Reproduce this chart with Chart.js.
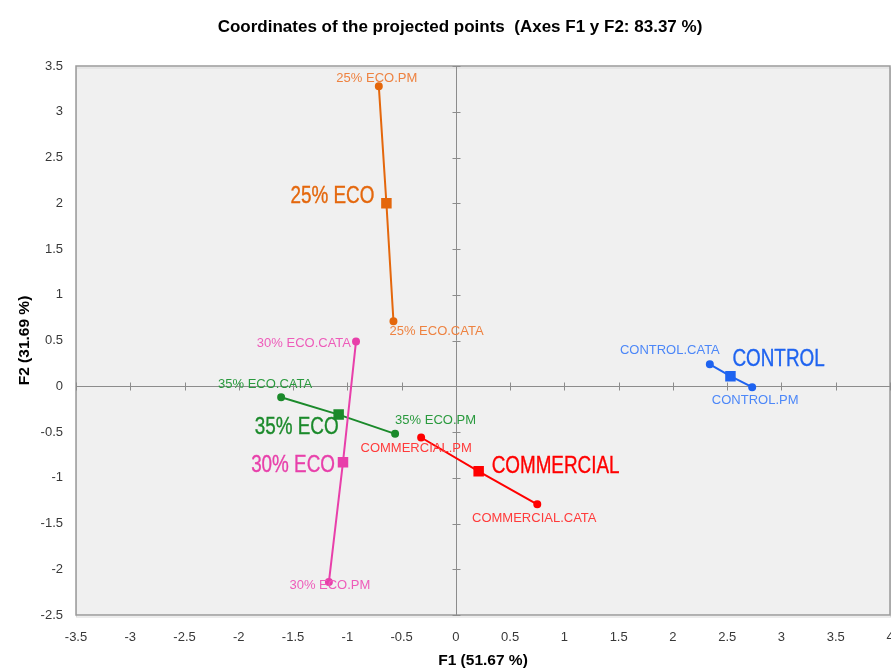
<!DOCTYPE html>
<html>
<head>
<meta charset="utf-8">
<script src="https://cdn.jsdelivr.net/npm/chart.js@4.4.1/dist/chart.umd.min.js"></script>
<style>
    html, body { margin: 0; padding: 0; background: #ffffff; }
    #wrap { width: 891px; height: 670px; position: relative; }
</style>
</head>
<body>
<div id="wrap"><canvas id="pcaChart"></canvas></div>
<script>
// Groups and their projected coordinates (F1, F2)
const groups = ["25% ECO", "30% ECO", "35% ECO", "COMMERCIAL", "CONTROL"];
const cataF1 = [-0.575, -0.92, -1.61, 0.75, 2.34];
const cataF2 = [0.71, 0.49, -0.12, -1.29, 0.24];
const meanF1 = [-0.64, -1.04, -1.08, 0.21, 2.53];
const meanF2 = [2.00, -0.83, -0.31, -0.93, 0.11];
const pmF1 = [-0.71, -1.17, -0.56, -0.32, 2.73];
const pmF2 = [3.28, -2.14, -0.52, -0.56, -0.01];

// Axis ticks
const xTicks = [-3.5, -3, -2.5, -2, -1.5, -1, -0.5, 0, 0.5, 1, 1.5, 2, 2.5, 3, 3.5, 4];
const yTicks = [-2.5, -2, -1.5, -1, -0.5, 0, 0.5, 1, 1.5, 2, 2.5, 3, 3.5];

const lineColors = ["#E4670C", "#E83FAA", "#1B8A2B", "#FF0000", "#1E63F0"];
const textColors = ["#EE8240", "#EE5CBA", "#2A9A3E", "#FF3B3B", "#4C87F8"];

// label placement: [dx, dy, align] for cata, mean, pm
const labelPos = [
    [[-4, 10, "left"], [-12, -7, "right"], [-2, -8, "center"]],
    [[-5, 2, "right"], [-8, 3, "right"], [1, 3, "center"]],
    [[-16, -13, "center"], [0, 13, "right"], [0, -13, "left"]],
    [[-3, 14, "center"], [13, -5, "left"], [-5, 11, "center"]],
    [[-40, -14, "center"], [2, -17, "left"], [3, 13, "center"]]
];

// fixed plot box (px)
const box = { left: 76, right: 890, top: 66, bottom: 615 };

const datasets = groups.map(function (g, i) {
    return {
        label: g,
        data: [
            { x: cataF1[i], y: cataF2[i] },
            { x: meanF1[i], y: meanF2[i] },
            { x: pmF1[i], y: pmF2[i] }
        ],
        showLine: true,
        borderColor: lineColors[i],
        backgroundColor: lineColors[i],
        borderWidth: 2,
        pointStyle: ["circle", "rect", "circle"],
        pointRadius: [3, 6, 3],
        pointHoverRadius: [3, 6, 3],
    };
});

const plotDecor = {
    id: "plotDecor",
    afterLayout(chart) {
        const a = chart.chartArea;
        const sx = chart.scales.x, sy = chart.scales.y;
        a.left = box.left; a.right = box.right; a.top = box.top; a.bottom = box.bottom;
        a.width = box.right - box.left; a.height = box.bottom - box.top;
        sx.left = box.left; sx.right = box.right; sx.width = a.width;
        sx.top = box.bottom; sx.bottom = chart.height; sx.height = chart.height - box.bottom;
        sy.left = 0; sy.right = box.left; sy.width = box.left;
        sy.top = box.top; sy.bottom = box.bottom; sy.height = a.height;
        sx.configure(); sy.configure();
        sx._labelItems = null; sy._labelItems = null;
    },
    beforeDatasetsDraw(chart) {
        const { ctx, chartArea: a, scales } = chart;
        ctx.save();
        ctx.fillStyle = "#F0F0F0";
        ctx.fillRect(a.left, a.top, a.right - a.left, a.bottom - a.top);
        ctx.strokeStyle = "#DADADA";
        ctx.lineWidth = 1;
        ctx.strokeRect(a.left + 0.5, a.top + 2, a.right - a.left, a.bottom - a.top);
        ctx.strokeStyle = "#9A9A9A";
        ctx.lineWidth = 1.5;
        ctx.strokeRect(a.left, a.top, a.right - a.left, a.bottom - a.top);

        const x0 = Math.round(scales.x.getPixelForValue(0)) + 0.5;
        const y0 = Math.round(scales.y.getPixelForValue(0)) + 0.5;
        ctx.strokeStyle = "#8C8C8C";
        ctx.lineWidth = 1;
        ctx.beginPath();
        ctx.moveTo(a.left, y0); ctx.lineTo(a.right, y0);
        ctx.moveTo(x0, a.top); ctx.lineTo(x0, a.bottom);
        xTicks.forEach(function (v) {
            if (v === 0) return;
            const px = Math.round(scales.x.getPixelForValue(v)) + 0.5;
            ctx.moveTo(px, y0 - 4); ctx.lineTo(px, y0 + 4);
        });
        yTicks.forEach(function (v) {
            if (v === 0) return;
            const py = Math.round(scales.y.getPixelForValue(v)) + 0.5;
            ctx.moveTo(x0 - 4, py); ctx.lineTo(x0 + 4, py);
        });
        ctx.stroke();
        ctx.restore();
    },
    afterDatasetsDraw(chart) {
        const ctx = chart.ctx;
        chart.data.datasets.forEach(function (ds, i) {
            const meta = chart.getDatasetMeta(i);
            const names = [groups[i] + ".CATA", groups[i], groups[i] + ".PM"];
            meta.data.forEach(function (pt, j) {
                const p = labelPos[i][j];
                ctx.save();
                ctx.textBaseline = "middle";
                ctx.textAlign = p[2];
                ctx.translate(pt.x + p[0], pt.y + p[1]);
                if (j === 1) {
                    // narrow look for the group names
                    ctx.scale(0.82, 1);
                    ctx.font = "23px 'Liberation Sans', Arial, sans-serif";
                    ctx.fillStyle = lineColors[i];
                    ctx.strokeStyle = lineColors[i];
                    ctx.lineWidth = 0.35;
                    ctx.strokeText(names[j], 0, 0);
                } else {
                    ctx.font = "13px 'Liberation Sans', Arial, sans-serif";
                    ctx.fillStyle = textColors[i];
                }
                ctx.fillText(names[j], 0, 0);
                ctx.restore();
            });
        });
    }
};

const tickFont = { family: "'Liberation Sans', Arial, sans-serif", size: 13 };
const axisTitleFont = { family: "'Liberation Sans', Arial, sans-serif", size: 15.5, weight: "bold" };

new Chart(document.getElementById("pcaChart"), {
    type: "scatter",
    data: { datasets: datasets },
    plugins: [plotDecor],
    options: {
        responsive: true,
        maintainAspectRatio: false,
        animation: false,
        layout: { padding: { left: 29, top: 0, bottom: 0, right: 0 } },
        plugins: {
            legend: { display: false },
            tooltip: { enabled: false },
            title: {
                display: true,
                text: "Coordinates of the projected points  (Axes F1 y F2: 83.37 %)",
                color: "#000000",
                font: { family: "'Liberation Sans', Arial, sans-serif", size: 17, weight: "bold" },
                padding: { top: 17, bottom: 28.6 },
            },
        },
        scales: {
            x: {
                type: "linear",
                min: -3.5,
                max: 4,
                grid: { display: false, drawTicks: false },
                border: { display: false },
                ticks: {
                    stepSize: 0.5,
                    color: "#383838",
                    font: tickFont,
                    padding: 15,
                    maxRotation: 0,
                    autoSkip: false,
                    callback: function (v) { return String(v); },
                },
                title: {
                    display: true,
                    text: "F1 (51.67 %)",
                    color: "#000000",
                    font: axisTitleFont,
                    padding: { top: 0, bottom: 0 },
                },
            },
            y: {
                type: "linear",
                min: -2.5,
                max: 3.5,
                grid: { display: false, drawTicks: false },
                border: { display: false },
                ticks: {
                    stepSize: 0.5,
                    color: "#383838",
                    font: tickFont,
                    padding: 13,
                    autoSkip: false,
                    callback: function (v) { return String(v); },
                },
                title: {
                    display: true,
                    text: "F2 (31.69 %)",
                    color: "#000000",
                    font: axisTitleFont,
                    padding: { top: 15, bottom: 0 },
                },
            },
        },
    },
});
</script>
</body>
</html>
